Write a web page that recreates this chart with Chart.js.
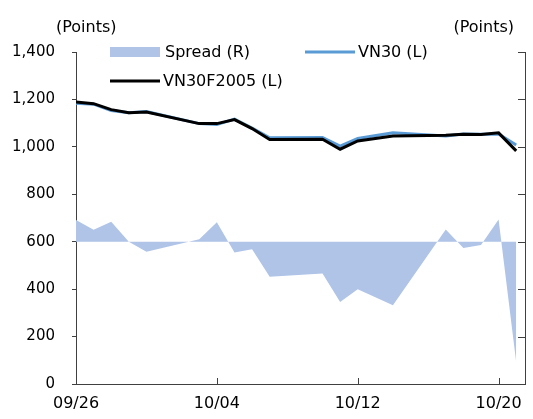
<!DOCTYPE html>
<html lang="en">
<head>
<meta charset="UTF-8">
<title>VN30 vs VN30F2005</title>
<script src="https://cdn.jsdelivr.net/npm/chart.js"></script>
<style>
    body { margin: 0; background: #fff; }
    canvas { display: block; }
</style>
</head>
<body>
<canvas id="chart" width="533" height="419"></canvas>
<script>
// trading dates (2022)
const dates = ['09/26', '09/27', '09/28', '09/29', '09/30', '10/03', '10/04', '10/05', '10/06', '10/07',
               '10/10', '10/11', '10/12', '10/14', '10/17', '10/18', '10/19', '10/20', '10/21'];
const vn30 = [1184, 1180, 1153, 1144, 1149, 1098, 1094, 1117, 1079, 1038,
              1039, 1003, 1035, 1059, 1046, 1054, 1053, 1054, 1008];
const vn30f = [1189, 1182, 1157, 1144, 1147, 1098, 1098, 1115, 1077, 1031,
               1032, 990, 1025, 1046, 1049, 1053, 1052, 1059, 983];
const spread = [4.6, 2.5, 4.2, 0, -2.1, 0.5, 4.1, -2.3, -1.6, -7.4,
                -6.7, -12.7, -10.0, -13.4, 2.6, -1.3, -0.7, 4.7, -25.4];
const tickLabels = ['09/26', '10/04', '10/12', '10/20'];

const FONT = "'DejaVu Sans', Verdana, sans-serif";
const SPREAD_COLOR = '#AFC4E6';
const VN30_COLOR = '#5B9BD5';
const AXIS_COLOR = '#404040';

// days since the first date
const dayOf = (s) => {
    const [m, d] = s.split('/').map(Number);
    const t0 = new Date(2022, 8, 26);
    return Math.round((new Date(2022, m - 1, d) - t0) / 86400000);
};
const xs = dates.map(dayOf);
const tickDays = tickLabels.map(dayOf);
const pts = (vals) => vals.map((v, i) => ({ x: xs[i], y: v }));

// legend, unit labels and inward tick marks
const decorPlugin = {
    id: 'decor',
    afterDraw(chart) {
        const ctx = chart.ctx;
        const area = chart.chartArea;
        const x = chart.scales.x;
        const y1 = chart.scales.y1;
        ctx.save();

        // inward ticks on x axis
        ctx.strokeStyle = AXIS_COLOR;
        ctx.lineWidth = 1;
        ctx.beginPath();
        tickDays.slice(1).forEach(d => {
            const px = Math.round(x.getPixelForValue(d)) + 0.5;
            ctx.moveTo(px, area.bottom);
            ctx.lineTo(px, area.bottom - 6);
        });
        // inward ticks on right axis
        for (let v = y1.min; v <= y1.max; v += 10) {
            const py = Math.round(y1.getPixelForValue(v)) + 0.5;
            ctx.moveTo(area.right, py);
            ctx.lineTo(area.right - 7, py);
        }
        ctx.stroke();

        // unit labels
        ctx.fillStyle = '#000';
        ctx.font = '16px ' + FONT;
        ctx.textBaseline = 'middle';
        ctx.textAlign = 'left';
        ctx.fillText('(Points)', 56, 28);
        ctx.textAlign = 'right';
        ctx.fillText('(Points)', 514, 28);

        // legend
        const ds = chart.data.datasets;
        ctx.font = '16px ' + FONT;
        ctx.textAlign = 'left';
        ctx.fillStyle = SPREAD_COLOR;
        ctx.fillRect(110, 47, 50, 10);
        ctx.fillStyle = '#000';
        ctx.fillText(ds[2].label, 165, 53);

        ctx.strokeStyle = VN30_COLOR;
        ctx.lineWidth = 3;
        ctx.beginPath();
        ctx.moveTo(305, 52);
        ctx.lineTo(355, 52);
        ctx.stroke();
        ctx.fillText(ds[1].label, 358, 53);

        ctx.strokeStyle = '#000';
        ctx.beginPath();
        ctx.moveTo(110, 81);
        ctx.lineTo(160, 81);
        ctx.stroke();
        ctx.fillText(ds[0].label, 163, 82);

        ctx.restore();
    }
};

new Chart(document.getElementById('chart'), {
    type: 'line',
    data: {
        datasets: [
            {
                label: 'VN30F2005 (L)',
                data: pts(vn30f),
                borderColor: '#000',
                borderWidth: 3,
                pointRadius: 0,
                tension: 0,
                yAxisID: 'y'
            },
            {
                label: 'VN30 (L)',
                data: pts(vn30),
                borderColor: VN30_COLOR,
                borderWidth: 3,
                pointRadius: 0,
                tension: 0,
                yAxisID: 'y'
            },
            {
                label: 'Spread (R)',
                data: pts(spread),
                borderWidth: 0,
                borderColor: SPREAD_COLOR,
                backgroundColor: SPREAD_COLOR,
                fill: { value: 0 },
                pointRadius: 0,
                tension: 0,
                yAxisID: 'y1'
            }
        ]
    },
    options: {
        responsive: false,
        animation: false,
        layout: { padding: { top: 52, left: 0, right: 0, bottom: 0 } },
        plugins: {
            legend: { display: false },
            tooltip: { enabled: false }
        },
        scales: {
            x: {
                type: 'linear',
                min: 0,
                max: 25.5,
                afterBuildTicks: (s) => { s.ticks = tickDays.map(v => ({ value: v })); },
                afterFit: (s) => { s.height = 35; },
                ticks: {
                    autoSkip: false,
                    maxRotation: 0,
                    padding: 10,
                    color: '#000',
                    font: { family: FONT, size: 16 },
                    callback: (v) => tickLabels[tickDays.indexOf(v)]
                },
                grid: { display: true, drawOnChartArea: false, drawTicks: false },
                border: { display: true, color: AXIS_COLOR, width: 1 }
            },
            y: {
                position: 'left',
                min: 0,
                max: 1400,
                afterFit: (s) => { s.width = 76; },
                ticks: {
                    stepSize: 200,
                    padding: 17,
                    color: '#000',
                    font: { family: FONT, size: 15 },
                    callback: (v) => v.toLocaleString('en-US')
                },
                grid: { display: true, drawOnChartArea: false, drawTicks: true, tickLength: 4, color: AXIS_COLOR },
                border: { display: true, color: AXIS_COLOR, width: 1 }
            },
            y1: {
                position: 'right',
                min: -30,
                max: 40,
                afterFit: (s) => { s.width = 8; },
                ticks: { display: false, stepSize: 10 },
                grid: { display: false },
                border: { display: true, color: AXIS_COLOR, width: 1 }
            }
        }
    },
    plugins: [decorPlugin]
});
</script>
</body>
</html>
